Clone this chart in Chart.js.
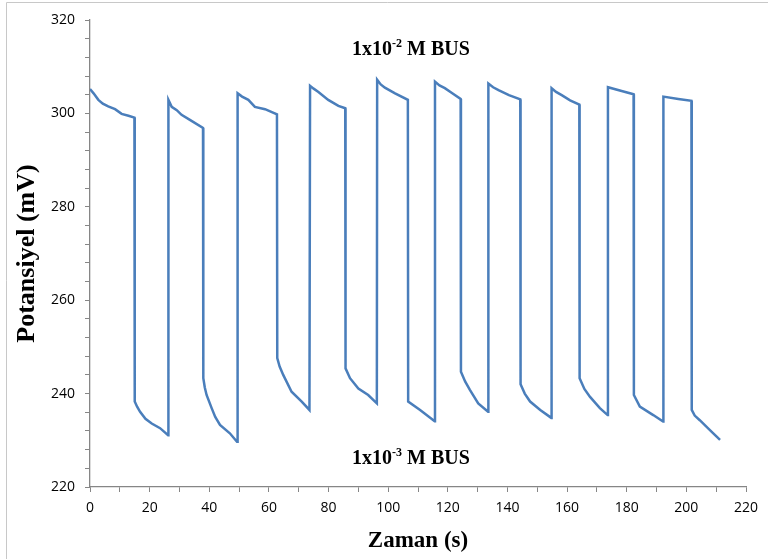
<!DOCTYPE html>
<html>
<head>
<meta charset="utf-8">
<script src="https://cdn.jsdelivr.net/npm/chart.js@4.4.0/dist/chart.umd.min.js"></script>
<style>
  html, body { margin: 0; padding: 0; background: #fff; }
  #wrap { width: 768px; height: 559px; position: relative; }
</style>
</head>
<body>
<div id="wrap"><canvas id="c" width="768" height="559"></canvas></div>
<script>
// Time (s) and potential (mV)
const timeSec = [
  0, 1.2, 2.8, 4.3, 6.1, 8.4, 10.6, 12.9, 14.9,
  15.0, 15.8, 16.8, 18.6, 20.7, 23.5, 26.2,
  26.3, 27.4, 29.1, 30.7, 33.5, 37.9,
  38.0, 38.5, 39.1, 40.8, 42.0, 43.6, 46.9, 49.3,
  49.5, 51.0, 53.1, 55.3, 58.7, 62.7,
  62.8, 63.6, 64.8, 67.6, 71.0, 73.6,
  73.8, 75.0, 76.6, 79.9, 83.3, 85.6,
  85.7, 87.2, 90.0, 93.3, 96.2,
  96.3, 97.5, 98.9, 102.3, 106.6,
  106.7, 110.7, 115.6,
  115.7, 117.2, 119.0, 121.5, 124.3,
  124.4, 125.8, 127.4, 130.2, 133.5,
  133.6, 135.2, 137.0, 140.5, 144.3,
  144.4, 145.8, 147.6, 151.0, 154.7,
  154.8, 156.3, 158.2, 161.0, 164.1,
  164.2, 165.8, 167.7, 171.0, 173.6,
  173.7, 178.3, 182.3,
  182.4, 184.4, 188.9, 192.2,
  192.3, 197.3, 201.7,
  201.8, 202.8, 204.5, 207.9, 211.3
];
const potentialMv = [
  305.2, 304.3, 302.9, 302.1, 301.5, 300.9, 299.9, 299.5, 299.1,
  238.3, 237.2, 236.1, 234.6, 233.6, 232.6, 231.1,
  302.9, 301.4, 300.7, 299.7, 298.6, 296.9,
  243.3, 241.3, 239.7, 236.9, 235.0, 233.3, 231.5, 229.7,
  304.3, 303.6, 302.9, 301.4, 300.9, 299.8,
  247.6, 245.8, 244.0, 240.4, 238.3, 236.5,
  305.9, 305.3, 304.6, 302.9, 301.6, 301.1,
  245.4, 243.3, 241.1, 239.7, 237.9,
  307.2, 306.2, 305.5, 304.3, 302.9,
  238.3, 236.5, 234.1,
  306.8, 306.0, 305.4, 304.3, 303.1,
  244.7, 242.6, 240.8, 237.9, 236.1,
  306.4, 305.6, 305.0, 303.9, 303.0,
  242.0, 240.0, 238.3, 236.5, 234.8,
  305.4, 304.6, 303.9, 302.8, 301.9,
  243.3, 241.0, 239.3, 236.9, 235.4,
  305.6, 304.8, 304.1,
  239.7, 237.2, 235.4, 234.0,
  303.6, 303.1, 302.7,
  236.5, 235.3, 234.3, 232.2, 230.1
];
const xTickLabels = [0, 20, 40, 60, 80, 100, 120, 140, 160, 180, 200, 220];
const yTickLabels = [220, 240, 260, 280, 300, 320];
const annotations = [
  { base: '1x10', sup: '-2', rest: ' M BUS', y: 312.4 },
  { base: '1x10', sup: '-3', rest: ' M BUS', y: 224.9 }
];
const xTitle = 'Zaman (s)';
const yTitle = 'Potansiyel (mV)';

const points = timeSec.map((t, i) => ({ x: t, y: potentialMv[i] }));

const axisGray = '#868686';
const serif = '"Liberation Serif", "Times New Roman", serif';
const sans = '"Open Sans", "Liberation Sans", sans-serif';

const frameAndNotes = {
  id: 'frameAndNotes',
  afterDraw(chart) {
    const ctx = chart.ctx;
    ctx.save();
    ctx.strokeStyle = '#c8c8c8';
    ctx.lineWidth = 1;
    ctx.beginPath();
    ctx.moveTo(6.5, 559);
    ctx.lineTo(6.5, 2.5);
    ctx.lineTo(768, 2.5);
    ctx.stroke();
    const xs = chart.scales.x, ys = chart.scales.y;
    const cx = (xs.left + xs.right) / 2 - 7;
    annotations.forEach(a => {
      const mainFont = 'bold 20px ' + serif;
      const supFont = 'bold 12px ' + serif;
      ctx.font = mainFont;
      const w1 = ctx.measureText(a.base).width;
      const w3 = ctx.measureText(a.rest).width;
      ctx.font = supFont;
      const w2 = ctx.measureText(a.sup).width;
      const total = w1 + w2 + w3;
      let x = cx - total / 2;
      const y = ys.getPixelForValue(a.y);
      ctx.fillStyle = '#000';
      ctx.textBaseline = 'alphabetic';
      ctx.textAlign = 'left';
      ctx.font = mainFont;
      ctx.fillText(a.base, x, y);
      x += w1;
      ctx.font = supFont;
      ctx.fillText(a.sup, x, y - 8);
      x += w2;
      ctx.font = mainFont;
      ctx.fillText(a.rest, x, y);
    });
    ctx.restore();
  }
};

new Chart(document.getElementById('c'), {
  type: 'line',
  data: {
    datasets: [{
      data: points,
      borderColor: '#4a7ebb',
      borderWidth: 2.5,
      pointRadius: 0,
      tension: 0,
      fill: false
    }]
  },
  options: {
    responsive: false,
    animation: false,
    devicePixelRatio: 1,
    layout: { padding: { left: 0, right: 22, top: 20, bottom: 0 } },
    plugins: { legend: { display: false }, tooltip: { enabled: false } },
    scales: {
      x: {
        type: 'linear',
        min: 0, max: 220,
        border: { color: axisGray, width: 1.3 },
        grid: { drawOnChartArea: false, color: axisGray, tickLength: 5, lineWidth: 1 },
        ticks: {
          stepSize: 10, autoSkip: false, maxRotation: 0, padding: 8,
          color: '#000', font: { family: sans, size: 14 },
          callback: v => xTickLabels.includes(v) ? String(v) : ''
        },
        title: {
          display: true, text: xTitle, color: '#000',
          font: { family: serif, size: 23, weight: 'bold' }, padding: { top: 3 }
        },
        afterFit(s) { s.height = 72; }
      },
      y: {
        type: 'linear',
        min: 220, max: 320,
        border: { color: axisGray, width: 1.3 },
        grid: { drawOnChartArea: false, color: axisGray, tickLength: 5, lineWidth: 1 },
        ticks: {
          stepSize: 4, autoSkip: false, padding: 10,
          color: '#000', font: { family: sans, size: 14 },
          callback: v => yTickLabels.includes(v) ? String(v) : ''
        },
        title: {
          display: true, text: yTitle, color: '#000',
          font: { family: serif, size: 26, weight: 'bold' }, padding: { top: 12, bottom: 0 }
        },
        afterFit(s) { s.width = 90; }
      }
    }
  },
  plugins: [frameAndNotes]
});
</script>
</body>
</html>
